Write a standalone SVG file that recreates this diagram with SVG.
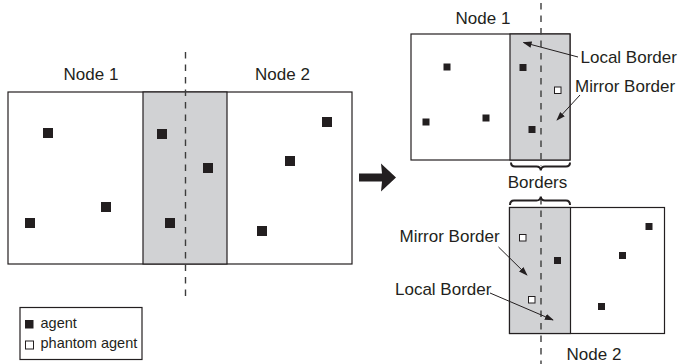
<svg xmlns="http://www.w3.org/2000/svg" width="681" height="364" viewBox="0 0 681 364">
  <defs>
    <style>
      .lbl { font-family: "Liberation Sans", Arial, sans-serif; font-size: 17px; fill: #231f20; }
      .leg { font-family: "Liberation Sans", Arial, sans-serif; font-size: 14.5px; fill: #231f20; }
      .box { fill: #ffffff; stroke: #231f20; stroke-width: 1.2; }
      .border { fill: #d1d2d4; stroke: #231f20; stroke-width: 1.2; }
      .cut { fill: none; stroke: #3c3c3c; stroke-width: 1.4; stroke-dasharray: 6.5 6; }
      .agent { fill: #231f20; }
      .phantom { fill: #ffffff; stroke: #231f20; stroke-width: 1; }
      .ptr { fill: none; stroke: #231f20; stroke-width: 1; marker-end: url(#head); }
      .brace { fill: none; stroke: #231f20; stroke-width: 2; }
    </style>
    <marker id="head" viewBox="0 0 10 10" refX="9" refY="5" markerWidth="9" markerHeight="9" markerUnits="userSpaceOnUse" orient="auto">
      <path d="M0,1.5 L10,5 L0,8.5 Z" fill="#231f20"/>
    </marker>
  </defs>

  <!-- whole domain before partitioning -->
  <g id="domain">
    <rect class="box" x="8" y="92" width="344" height="172"/>
    <rect class="border" x="143" y="92" width="84" height="172"/>
    <line class="cut" x1="185.5" y1="52" x2="185.5" y2="297"/>
    <text class="lbl" x="91" y="80" text-anchor="middle">Node 1</text>
    <text class="lbl" x="282.5" y="80" text-anchor="middle">Node 2</text>
    <rect class="agent" x="43" y="128" width="10" height="10"/>
    <rect class="agent" x="25" y="218" width="10" height="10"/>
    <rect class="agent" x="101" y="202" width="10" height="10"/>
    <rect class="agent" x="157" y="129" width="10" height="10"/>
    <rect class="agent" x="165" y="218" width="10" height="10"/>
    <rect class="agent" x="203" y="163" width="10" height="10"/>
    <rect class="agent" x="322" y="117" width="10" height="10"/>
    <rect class="agent" x="285" y="156" width="10" height="10"/>
    <rect class="agent" x="257" y="226" width="10" height="10"/>
  </g>

  <!-- node 1 after partitioning -->
  <g id="node1">
    <rect class="box" x="411" y="34" width="159" height="126"/>
    <rect class="border" x="510" y="34" width="60" height="126"/>
    <text class="lbl" x="483" y="24" text-anchor="middle">Node 1</text>
    <rect class="agent" x="443.5" y="63.5" width="7" height="7"/>
    <rect class="agent" x="422.5" y="118.5" width="7" height="7"/>
    <rect class="agent" x="482.5" y="114.5" width="7" height="7"/>
    <rect class="agent" x="519.5" y="64" width="7" height="7"/>
    <rect class="agent" x="528.5" y="126" width="7" height="7"/>
    <rect class="phantom" x="554.5" y="87" width="6.5" height="6.5"/>
    <text class="lbl" x="580.5" y="63">Local Border</text>
    <text class="lbl" x="575" y="91.5">Mirror Border</text>
  </g>

  <!-- node 2 after partitioning -->
  <g id="node2">
    <rect class="box" x="509.5" y="207.5" width="155" height="126"/>
    <rect class="border" x="509.5" y="207.5" width="61" height="126"/>
    <text class="lbl" x="594" y="360" text-anchor="middle">Node 2</text>
    <rect class="phantom" x="519.5" y="234.5" width="6.5" height="6.5"/>
    <rect class="phantom" x="528.5" y="296.5" width="6.5" height="6.5"/>
    <rect class="agent" x="554" y="257" width="7" height="7"/>
    <rect class="agent" x="645.5" y="223" width="7" height="7"/>
    <rect class="agent" x="619" y="252" width="7" height="7"/>
    <rect class="agent" x="598" y="303" width="7" height="7"/>
    <text class="lbl" x="399.5" y="241.5">Mirror Border</text>
    <text class="lbl" x="395" y="295">Local Border</text>
  </g>

  <!-- shared border region between the two nodes -->
  <g id="borders">
    <line class="cut" x1="541" y1="3" x2="541" y2="166"/>
    <line class="cut" x1="541" y1="198" x2="541" y2="364"/>
    <path class="brace" d="M511,162.5 Q511,166.5 515,166.5 L536.5,166.5 Q540.5,166.5 540.8,170.5 Q541,166.5 545,166.5 L566,166.5 Q570,166.5 570,162.5"/>
    <path class="brace" d="M510,205 Q510,200.5 514,200.5 L536.5,200.5 Q540.5,200.5 540.8,196.5 Q541,200.5 545,200.5 L566,200.5 Q570,200.5 570,205"/>
    <text class="lbl" x="537.5" y="187.5" text-anchor="middle">Borders</text>
  </g>

  <!-- legend -->
  <g id="legend">
    <rect class="box" x="20" y="307.5" width="122" height="52"/>
    <rect class="agent" x="25" y="320" width="8.5" height="8.5"/>
    <rect class="phantom" x="25.5" y="341" width="8" height="8"/>
    <text class="leg" x="40.5" y="327.5">agent</text>
    <text class="leg" x="40.5" y="347.5">phantom agent</text>
  </g>

  <!-- connectors -->
  <g id="connectors">
    <polygon points="359,173.5 382,173.5 381,163.5 396,177.5 381,191.5 382,181.5 359,181.5" fill="#231f20"/>
    <line class="ptr" x1="578" y1="57" x2="523.5" y2="42.5"/>
    <line class="ptr" x1="580" y1="95" x2="557" y2="120"/>
    <line class="ptr" x1="498.5" y1="247" x2="527" y2="275"/>
    <line class="ptr" x1="490" y1="293" x2="553" y2="320"/>
  </g>
</svg>
